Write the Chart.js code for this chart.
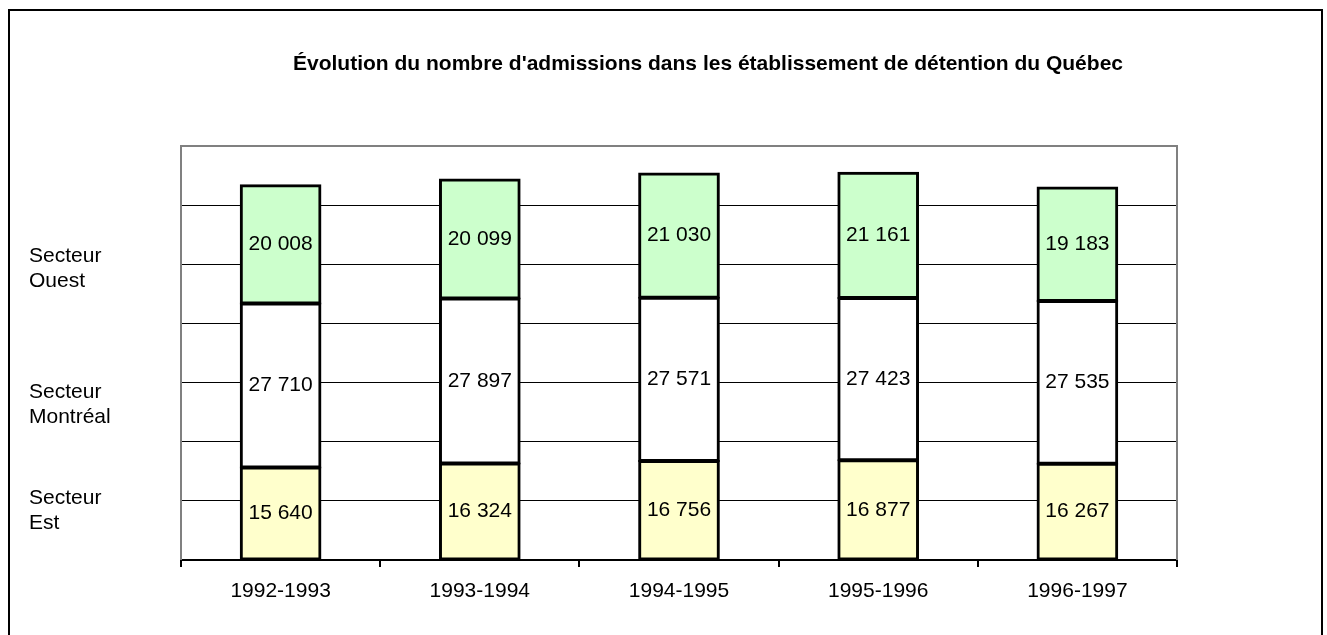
<!DOCTYPE html>
<html>
<head>
<meta charset="utf-8">
<script src="https://cdn.jsdelivr.net/npm/chart.js@4"></script>
<style>
  body { margin: 0; background: #fff; }
  canvas { display: block; }
</style>
</head>
<body>
<canvas id="chart" width="1327" height="635"></canvas>
<script>
const categories = ["1992-1993", "1993-1994", "1994-1995", "1995-1996", "1996-1997"];
const secteurEst = [15640, 16324, 16756, 16877, 16267];
const secteurMontreal = [27710, 27897, 27571, 27423, 27535];
const secteurOuest = [20008, 20099, 21030, 21161, 19183];
const titleText = "Évolution du nombre d'admissions dans les établissement de détention du Québec";

const FONT = "'Liberation Sans', Arial, sans-serif";

function fmt(v) {
  return String(v).replace(/\B(?=(\d{3})+(?!\d))/g, " ");
}

// outer frame, title and sector names on the left
const decorations = {
  id: "decorations",
  beforeDraw(chart) {
    const ctx = chart.ctx;
    ctx.save();
    ctx.fillStyle = "#fff";
    ctx.fillRect(0, 0, chart.width, chart.height);
    ctx.strokeStyle = "#000";
    ctx.lineWidth = 2;
    ctx.strokeRect(9, 10, 1313, 640);
    ctx.fillStyle = "#000";
    ctx.font = "bold 21px " + FONT;
    ctx.textAlign = "center";
    ctx.textBaseline = "middle";
    ctx.fillText(titleText, 708, 64);
    ctx.font = "21px " + FONT;
    ctx.textAlign = "left";
    [["Secteur", "Ouest", 256], ["Secteur", "Montréal", 392], ["Secteur", "Est", 498]].forEach((l) => {
      ctx.fillText(l[0], 29, l[2]);
      ctx.fillText(l[1], 29, l[2] + 25);
    });
    ctx.restore();
  },
  beforeDatasetsDraw(chart) {
    const a = chart.chartArea;
    const ctx = chart.ctx;
    ctx.save();
    ctx.strokeStyle = "#808080";
    ctx.lineWidth = 2;
    ctx.beginPath();
    ctx.moveTo(a.left, a.bottom);
    ctx.lineTo(a.left, a.top);
    ctx.lineTo(a.right, a.top);
    ctx.lineTo(a.right, a.bottom);
    ctx.stroke();
    ctx.restore();
  },
  afterDatasetsDraw(chart) {
    const ctx = chart.ctx;
    ctx.save();
    ctx.fillStyle = "#000";
    ctx.font = "21px " + FONT;
    ctx.textAlign = "center";
    ctx.textBaseline = "middle";
    chart.data.datasets.forEach((ds, i) => {
      chart.getDatasetMeta(i).data.forEach((bar, j) => {
        ctx.fillText(fmt(ds.data[j]), bar.x, (bar.y + bar.base) / 2);
      });
    });
    ctx.restore();
  },
};

new Chart(document.getElementById("chart"), {
  type: "bar",
  data: {
    labels: categories,
    datasets: [
      { label: "Secteur Est", data: secteurEst, backgroundColor: "#FFFFCC" },
      { label: "Secteur Montréal", data: secteurMontreal, backgroundColor: "#FFFFFF" },
      { label: "Secteur Ouest", data: secteurOuest, backgroundColor: "#CCFFCC" },
    ].map((d) => Object.assign(d, {
      borderColor: "#000",
      borderWidth: 3,
      borderSkipped: false,
      inflateAmount: 1,
      barPercentage: 0.4,
      categoryPercentage: 1,
    })),
  },
  options: {
    responsive: false,
    animation: false,
    layout: { padding: { left: 0, right: 150, top: 146, bottom: 0 } },
    plugins: {
      legend: { display: false },
      title: { display: false },
      tooltip: { enabled: false },
    },
    scales: {
      x: {
        stacked: true,
        grid: { drawOnChartArea: false, drawTicks: true, tickLength: 7, color: "#000", lineWidth: 2, offset: true },
        border: { display: true, color: "#000", width: 2 },
        ticks: { color: "#000", font: { family: FONT, size: 21 }, padding: 12, maxRotation: 0 },
        afterFit: (scale) => { scale.height = 75; },
      },
      y: {
        stacked: true,
        min: 0,
        max: 70000,
        ticks: { display: false, stepSize: 10000 },
        grid: {
          drawTicks: false,
          lineWidth: 1,
          color: (c) => (c.tick.value === 0 || c.tick.value === 70000 ? "rgba(0,0,0,0)" : "#000"),
        },
        border: { display: false },
        afterFit: (scale) => { scale.width = 181; },
      },
    },
  },
  plugins: [decorations],
});
</script>
</body>
</html>
